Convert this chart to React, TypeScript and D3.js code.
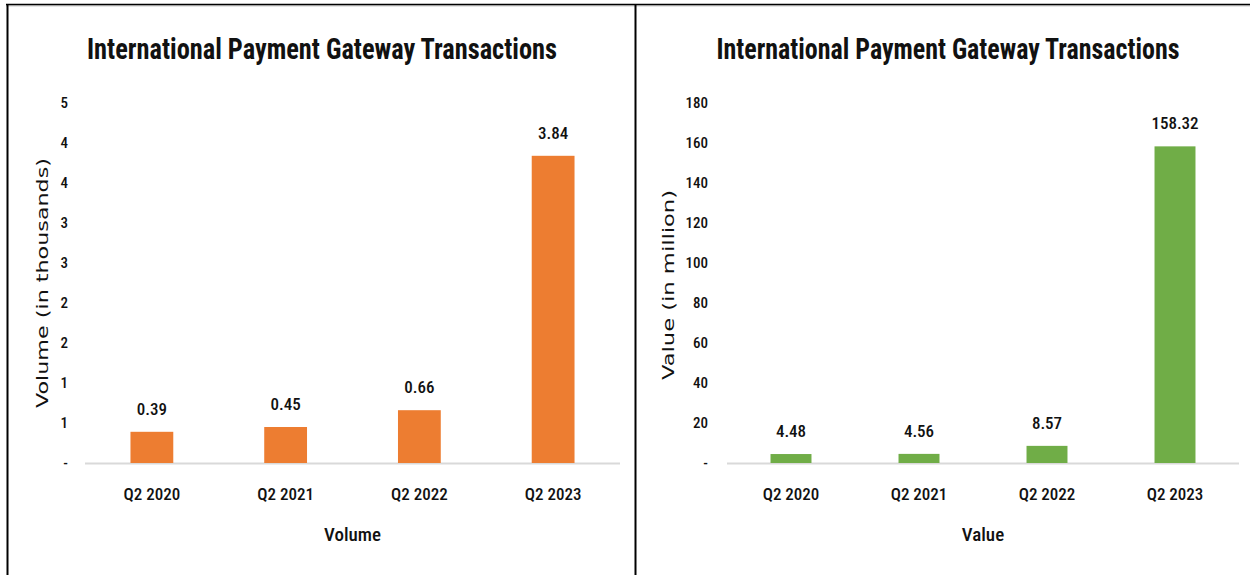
import React from "react";
import * as d3 from "d3";

const categories = ["Q2 2020", "Q2 2021", "Q2 2022", "Q2 2023"];
const volumeValues = [0.39, 0.45, 0.66, 3.84];
const valueValues = [4.48, 4.56, 8.57, 158.32];
const volumeTicks = [0, 0.5, 1, 1.5, 2, 2.5, 3, 3.5, 4, 4.5];
const valueTicks = [0, 20, 40, 60, 80, 100, 120, 140, 160, 180];
const chartTitle = "International Payment Gateway Transactions";

const NARROW = "'Liberation Sans Narrow', 'Arial Narrow', 'Roboto Condensed', 'Open Sans', sans-serif";
const WIDE = "'DejaVu Sans', Verdana, sans-serif";

type PanelProps = {
  values: number[];
  ticks: number[];
  yMax: number;
  x0: number;
  x1: number;
  color: string;
  tickFmt: (d: number) => string;
  titleX: number;
  titleLen: number;
  yTitle: string;
  yTitleX: number;
  yTitleY: number;
  yTitleLen: number;
  tickX: number;
  xTitle: string;
};

function Panel(p: PanelProps) {
  const yTop = 103;
  const yBase = 463;
  const y = d3.scaleLinear().domain([0, p.yMax]).range([yBase, yTop]);
  const x = d3
    .scaleBand<string>()
    .domain(categories)
    .range([p.x0, p.x1])
    .paddingInner(0.68)
    .paddingOuter(0.34);
  const bw = x.bandwidth();
  return (
    <g>
      <text
        x={p.titleX}
        y={59}
        textAnchor="middle"
        fontFamily={NARROW}
        fontWeight="bold"
        fontSize={30}
        fill="#111"
        textLength={p.titleLen}
        lengthAdjust="spacingAndGlyphs"
      >
        {chartTitle}
      </text>
      {p.ticks.map((t) => (
        <text
          key={t}
          x={p.tickX}
          y={y(t)}
          dy="0.35em"
          textAnchor="end"
          fontFamily={NARROW}
          fontSize={15}
          fontWeight={500}
          fill="#111"
        >
          {p.tickFmt(t)}
        </text>
      ))}
      <line x1={p.x0} x2={p.x1} y1={yBase + 0.5} y2={yBase + 0.5} stroke="#d9d9d9" strokeWidth={2} />
      {p.values.map((v, i) => (
        <g key={categories[i]}>
          <rect
            x={x(categories[i])}
            y={y(v)}
            width={bw}
            height={yBase - y(v)}
            fill={p.color}
          />
          <text
            x={(x(categories[i]) as number) + bw / 2}
            y={y(v) - 17}
            textAnchor="middle"
            fontFamily={NARROW}
            fontSize={17}
            fontWeight={500}
            fill="#111"
          >
            {v.toFixed(2)}
          </text>
          <text
            x={(x(categories[i]) as number) + bw / 2}
            y={500}
            textAnchor="middle"
            fontFamily={NARROW}
            fontSize={17}
            fontWeight={500}
            fill="#111"
          >
            {categories[i]}
          </text>
        </g>
      ))}
      <text
        x={(p.x0 + p.x1) / 2}
        y={541}
        textAnchor="middle"
        fontFamily={NARROW}
        fontSize={19}
        fontWeight={500}
        fill="#111"
      >
        {p.xTitle}
      </text>
      <text
        transform={`translate(${p.yTitleX},${p.yTitleY}) rotate(-90)`}
        textAnchor="middle"
        dy="0.35em"
        fontFamily={WIDE}
        fontSize={16}
        fill="#111"
        textLength={p.yTitleLen}
        lengthAdjust="spacingAndGlyphs"
      >
        {p.yTitle}
      </text>
    </g>
  );
}

export default function App() {
  return (
    <svg
      width={1250}
      height={575}
      style={{ position: "absolute", left: 0, top: 0, background: "#fff" }}
    >
      <rect x={0} y={0} width={1250} height={575} fill="#fff" />
      <Panel
        values={volumeValues}
        ticks={volumeTicks}
        yMax={4.5}
        x0={85}
        x1={620}
        color="#ED7D31"
        tickFmt={(d) => (d === 0 ? "-" : String(Math.round(d)))}
        titleX={322}
        titleLen={470}
        yTitle="Volume  (in thousands)"
        yTitleX={42}
        yTitleY={283}
        yTitleLen={250}
        tickX={68}
        xTitle="Volume"
      />
      <Panel
        values={valueValues}
        ticks={valueTicks}
        yMax={180}
        x0={727}
        x1={1239}
        color="#70AD47"
        tickFmt={(d) => (d === 0 ? "-" : String(d))}
        titleX={948}
        titleLen={463}
        yTitle="Value  (in million)"
        yTitleX={668}
        yTitleY={285}
        yTitleLen={190}
        tickX={708}
        xTitle="Value"
      />
      <line x1={6} x2={1250} y1={4.5} y2={4.5} stroke="#000" strokeWidth={1.5} />
      <line x1={6} x2={1250} y1={5.75} y2={5.75} stroke="#999" strokeWidth={1} />
      <line x1={7.5} x2={7.5} y1={4} y2={575} stroke="#000" strokeWidth={2} />
      <line x1={635.5} x2={635.5} y1={4} y2={575} stroke="#000" strokeWidth={2} />
    </svg>
  );
}
